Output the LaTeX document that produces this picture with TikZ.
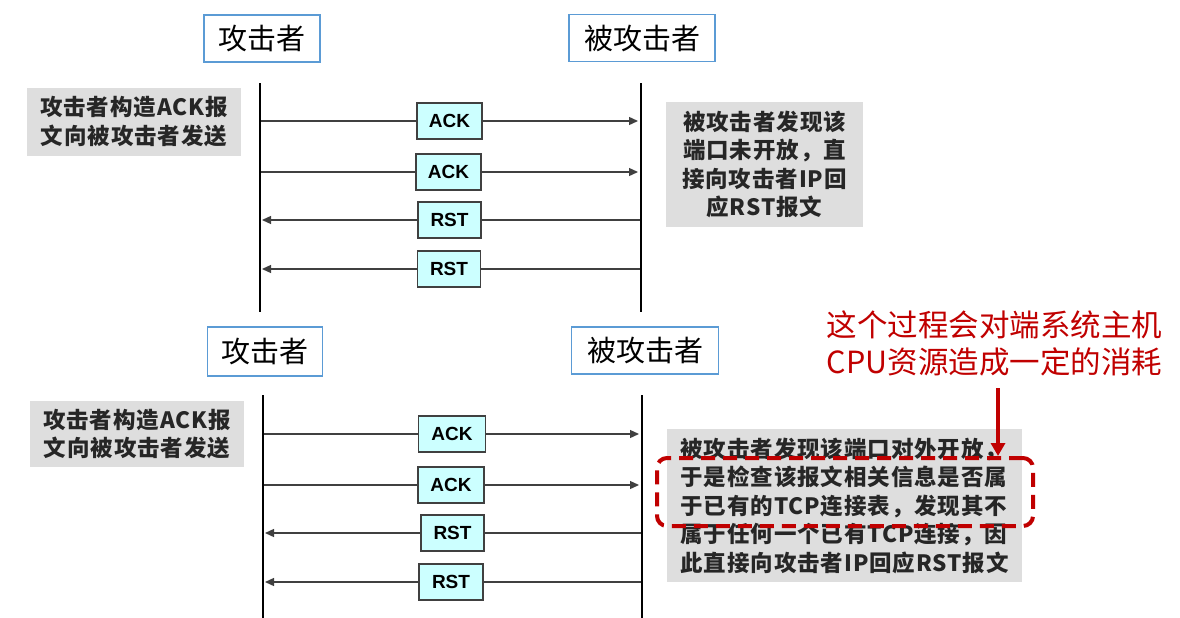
\documentclass[tikz,border=0pt]{standalone}
\usepackage{fontspec}
\usetikzlibrary{arrows.meta}
\newfontfamily\cjk{Noto Sans CJK SC}
\newfontfamily\cjkb[LetterSpace=4]{Noto Sans CJK SC}
\newfontfamily\arialb{Liberation Sans}
\definecolor{boxblue}{HTML}{5B9BD5}
\definecolor{graybg}{HTML}{DEDEDE}
\definecolor{cyanbg}{HTML}{CCFFFF}
\definecolor{linegray}{HTML}{404040}
\definecolor{darkred}{HTML}{C00000}
\tikzset{
  titlebox/.style={draw=boxblue,line width=1.5pt,fill=white,minimum height=47pt,inner sep=0pt,
    font=\cjk\fontsize{29}{31}\selectfont},
  notebox/.style={fill=graybg,inner sep=0pt,text=black!85,
    font=\cjkb\bfseries\fontsize{22.5}{28.5}\selectfont},
  msgbox/.style={draw=linegray,line width=1.5pt,fill=cyanbg,minimum width=65pt,minimum height=36pt,
    inner sep=0pt,font=\arialb\bfseries\fontsize{19}{20}\selectfont},
  lifeline/.style={line width=2.5pt,black},
  wire/.style={draw=linegray,line width=1.3pt},
  wirearrow/.style={wire,-{Triangle[length=9pt,width=8pt]}},
  redline/.style={draw=darkred,line width=4pt},
}
\begin{document}
\begin{tikzpicture}[x=1pt,y=-1pt]
\useasboundingbox (0,0) rectangle (1180,618);

% ---------------- top diagram ----------------
\node[titlebox,minimum width=116pt] (att1) at (262,38.5) {攻击者};
\node[titlebox,minimum width=146pt] (vic1) at (642,38) {被攻击者};
\coordinate (L1a) at (260,83); \coordinate (L1b) at (260,312);
\coordinate (R1a) at (641,83); \coordinate (R1b) at (641,312);
\draw[lifeline] (L1a) -- (L1b);
\draw[lifeline] (R1a) -- (R1b);

\node[notebox,minimum width=214pt,minimum height=68pt,align=center] (n1l) at (134,121.5)
  {攻击者构造ACK报\\文向被攻击者发送};
\node[notebox,minimum width=197pt,minimum height=125pt,align=center] (n1r) at (764.5,164.5)
  {被攻击者发现该\\端口未开放，直\\接向攻击者IP回\\应RST报文};

\node[msgbox] (m11) at (449.5,121) {ACK};
\node[msgbox] (m12) at (448.5,172) {ACK};
\node[msgbox,minimum width=63pt] (m13) at (449.5,220) {RST};
\node[msgbox,minimum width=63pt] (m14) at (449,269) {RST};

\coordinate (l11) at (261,121); \coordinate (r11) at (638,121);
\coordinate (l12) at (261,172); \coordinate (r12) at (638,172);
\coordinate (l13) at (262,220); \coordinate (r13) at (640,220);
\coordinate (l14) at (262,269); \coordinate (r14) at (640,269);
\draw[wire] (l11) -- (m11.west); \draw[wirearrow] (m11.east) -- (r11);
\draw[wire] (l12) -- (m12.west); \draw[wirearrow] (m12.east) -- (r12);
\draw[wire] (r13) -- (m13.east); \draw[wirearrow] (m13.west) -- (l13);
\draw[wire] (r14) -- (m14.east); \draw[wirearrow] (m14.west) -- (l14);

% ---------------- bottom diagram ----------------
\node[titlebox,minimum width=115pt,minimum height=49pt] (att2) at (265,351.5) {攻击者};
\node[titlebox,minimum width=147pt] (vic2) at (645,350.5) {被攻击者};
\coordinate (L2a) at (263,395); \coordinate (L2b) at (263,618);
\coordinate (R2a) at (642,395); \coordinate (R2b) at (642,618);
\draw[lifeline] (L2a) -- (L2b);
\draw[lifeline] (R2a) -- (R2b);

\node[notebox,minimum width=214pt,minimum height=66pt,align=center] (n2l) at (137,434)
  {攻击者构造ACK报\\文向被攻击者发送};
\node[notebox,minimum width=355pt,minimum height=153pt,align=left] (n2r) at (844.5,505.5)
  {被攻击者发现该端口对外开放，\\于是检查该报文相关信息是否属\\于已有的TCP连接表，发现其不\\属于任何一个已有TCP连接，因\\此直接向攻击者IP回应RST报文};

\node[msgbox,minimum width=67pt] (m21) at (452,434) {ACK};
\node[msgbox,minimum width=66pt] (m22) at (451,485) {ACK};
\node[msgbox,minimum width=63pt] (m23) at (452.5,533) {RST};
\node[msgbox,minimum width=64pt] (m24) at (451,582) {RST};

\coordinate (l21) at (264,434); \coordinate (r21) at (639,434);
\coordinate (l22) at (264,485); \coordinate (r22) at (639,485);
\coordinate (l23) at (265,533); \coordinate (r23) at (641,533);
\coordinate (l24) at (265,582); \coordinate (r24) at (641,582);
\draw[wire] (l21) -- (m21.west); \draw[wirearrow] (m21.east) -- (r21);
\draw[wire] (l22) -- (m22.west); \draw[wirearrow] (m22.east) -- (r22);
\draw[wire] (r23) -- (m23.east); \draw[wirearrow] (m23.west) -- (l23);
\draw[wire] (r24) -- (m24.east); \draw[wirearrow] (m24.west) -- (l24);

% ---------------- annotation ----------------
\node[text=darkred,align=left,inner sep=0pt,font=\cjk\fontsize{30.5}{37}\selectfont] (remark) at (994.5,343)
  {这个过程会对端系统主机\\CPU资源造成一定的消耗};
\node[redline,dash pattern=on 14pt off 8pt,rounded corners=10pt,minimum width=376pt,minimum height=68pt,
  inner sep=0pt] (hl) at (845,492) {};
\coordinate (arrtop) at (998,388);
\draw[redline,-{Triangle[length=13pt,width=14pt]}] (arrtop) -- (arrtop |- hl.north);
\end{tikzpicture}
\end{document}
